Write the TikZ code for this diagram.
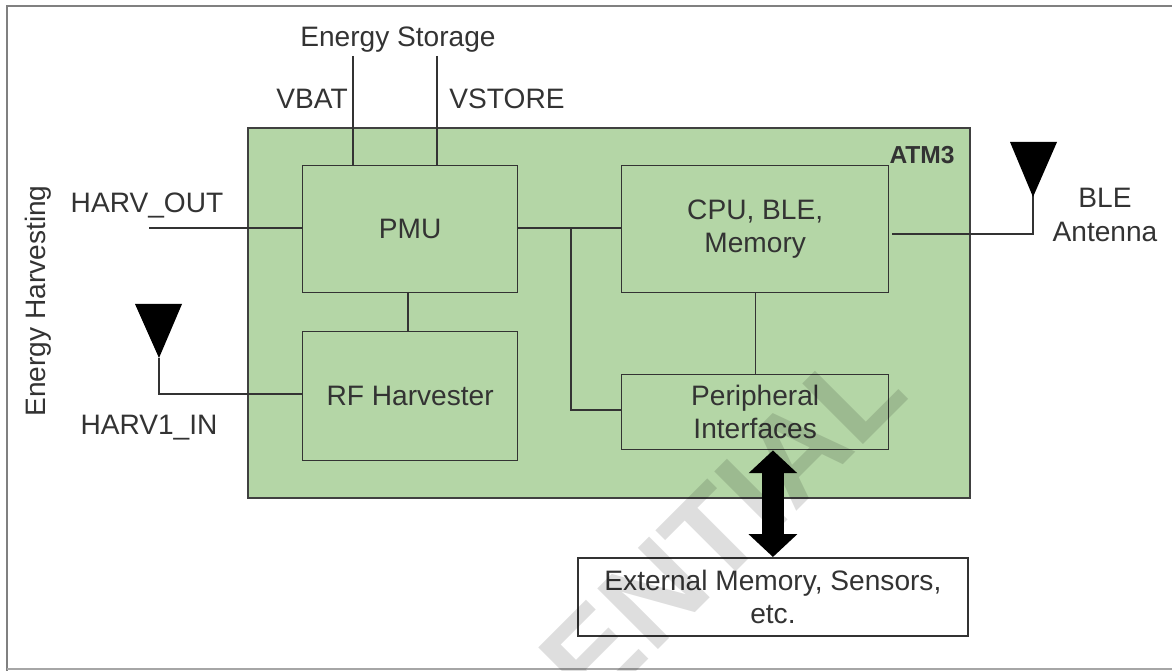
\documentclass[tikz,border=0pt]{standalone}
\usepackage{fontspec}
\setmainfont{Liberation Sans}
\usetikzlibrary{positioning,arrows.meta}
\definecolor{atmgreen}{HTML}{B4D6A6}
\definecolor{linegray}{HTML}{333333}
\tikzset{
  blockbox/.style={draw=linegray, line width=0.8pt, fill=atmgreen, align=center, inner sep=0pt},
  wire/.style={draw=linegray, line width=0.7pt},
  label/.style={text=black!80, font=\fontsize{16}{19}\selectfont, align=center, inner sep=0pt},
  antenna/.style={fill=black}
}
\begin{document}
\begin{tikzpicture}[x=0.02cm, y=-0.02cm]
  \useasboundingbox (0, 0) rectangle (1172, 671);
  \clip (0, 0) rectangle (1172, 671);
  \draw[gray, line width=0.9pt] (7, 671) -- (7, 6) -- (1172, 6);
  \draw[gray!70, line width=0.6pt] (7, 669) -- (1172, 669);

  \node (atm) [blockbox, draw=black!75, line width=1.3pt, minimum width=14.44cm, minimum height=7.4cm, anchor=north west] at (247, 127) {};
  \node (pmu) [blockbox, label, minimum width=4.3cm, minimum height=2.54cm, anchor=north west] at (302, 165) {PMU};
  \node (rf) [blockbox, label, minimum width=4.3cm, minimum height=2.58cm, anchor=north west] at (302, 331) {RF Harvester};
  \node (cpu) [blockbox, label, minimum width=5.34cm, minimum height=2.54cm, anchor=north west] at (621, 165) {CPU, BLE,\\Memory};
  \node (periph) [blockbox, label, minimum width=5.34cm, minimum height=1.5cm, anchor=north west] at (621, 374) {Peripheral\\Interfaces};
  \node (ext) [blockbox, label, fill=white, draw=black!80, line width=1.1pt, minimum width=7.8cm, minimum height=1.56cm, anchor=north west] at (577, 557) {External Memory, Sensors,\\etc.};
  \node (atmname) [label, font=\bfseries\fontsize{14}{16}\selectfont, anchor=east] at (955, 155) {ATM3};

  \node (storage) [label] at (398, 40) {Energy Storage};
  \node (vbat) [label] at (312, 99) {VBAT};
  \node (vstore) [label] at (507, 99) {VSTORE};
  \node (harvout) [label] at (147, 205) {HARV\_OUT};
  \node (harvin) [label] at (149, 428) {HARV1\_IN};
  \node (harvest) [label, rotate=90] at (38, 301) {Energy Harvesting};
  \node (ble) [label] at (1105, 215) {BLE\\Antenna};

  \coordinate (vbatend) at (353, 56);
  \coordinate (vstoreend) at (437, 56);
  \coordinate (harvend) at (149, 228);
  \coordinate (leftant) at (159, 358);
  \coordinate (rightant) at (1033, 195);

  \draw[wire] (vbatend) -- (vbatend |- pmu.north);
  \draw[wire] (vstoreend) -- (vstoreend |- pmu.north);
  \draw[wire] (harvend) -- (harvend -| pmu.west);
  \draw[wire] (408, 292) -- (408, 331);
  \draw[wire] (leftant) |- (rf.west |- 0, 394);
  \draw[wire] (pmu.east |- 0, 228) -- (cpu.west |- 0, 228);
  \draw[wire] (571, 228) |- (periph.west |- 0, 410);
  \draw[wire] (cpu.south) -- (periph.north);
  \draw[wire] (892, 234) -| (rightant);

  \fill[antenna] (135, 304) -- (182, 304) -- (159, 358) -- cycle;
  \fill[antenna] (1010, 142) -- (1057, 142) -- (1033, 197) -- cycle;

  \draw[line width=12.3pt, {Triangle[length=13pt, width=27pt]}-{Triangle[length=13pt, width=27pt]}] (ext.north |- periph.south) -- (ext.north);

  \node (mark) [text=black, opacity=0.13, font=\bfseries\fontsize{71}{75}\selectfont, rotate=45, inner sep=0pt, anchor=base east] at (912, 396) {ENTIAL};
\end{tikzpicture}
\end{document}
